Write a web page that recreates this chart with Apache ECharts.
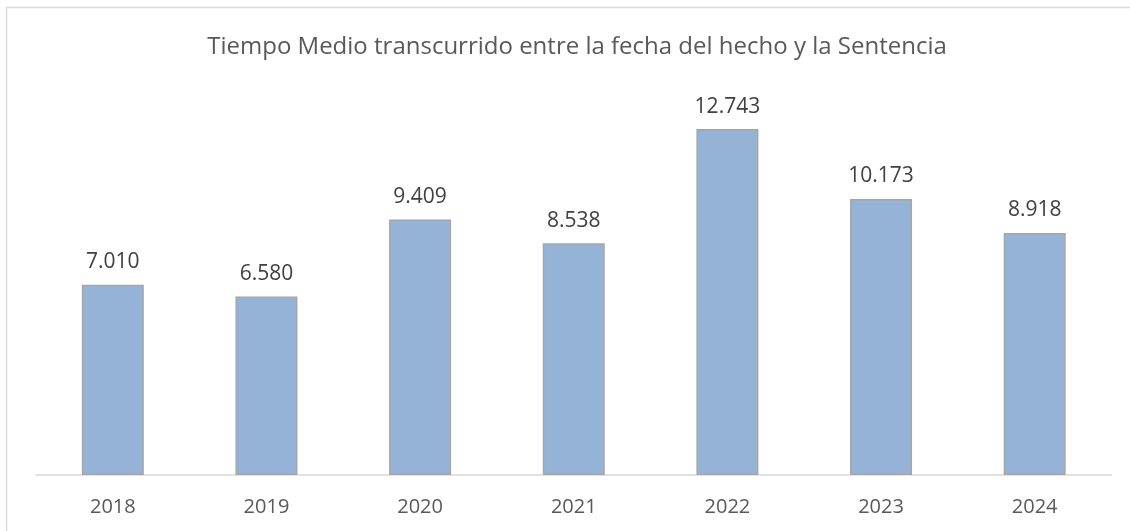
<!DOCTYPE html>
<html>
<head>
<meta charset="utf-8">
<script src="https://cdn.jsdelivr.net/npm/echarts@6/dist/echarts.min.js"></script>
<style>
  html, body { margin: 0; padding: 0; background: #fff; }
  #container { width: 1130px; height: 531px; }
</style>
</head>
<body>
<div id="container"></div>
<script>
  var titulo = 'Tiempo Medio transcurrido entre la fecha del hecho y la Sentencia';
  var anios = ['2018', '2019', '2020', '2021', '2022', '2023', '2024'];
  var valores = [7010, 6580, 9409, 8538, 12743, 10173, 8918];

  // 7010 -> "7.010"
  function formatoMiles(v) {
    return String(v).replace(/\B(?=(\d{3})+(?!\d))/g, '.');
  }

  var myChart = echarts.init(document.getElementById('container'));
  var option = {
    backgroundColor: '#fff',
    textStyle: { fontFamily: 'Open Sans' },
    title: {
      text: titulo,
      left: 572,
      textAlign: 'center',
      top: 30,
      textStyle: { color: '#595959', fontSize: 24, fontWeight: 'normal', fontFamily: 'Open Sans' }
    },
    graphic: [{
      type: 'rect',
      shape: { x: 6.5, y: 7.5, width: 1140, height: 540 },
      style: { fill: 'none', stroke: '#D9D9D9', lineWidth: 1.5 },
      silent: true
    }],
    grid: { left: 36, right: 18.5, top: 95, bottom: 56 },
    xAxis: {
      type: 'category',
      data: anios,
      axisLine: { lineStyle: { color: '#D9D9D9', width: 1.5 } },
      axisTick: { show: false },
      axisLabel: { color: '#595959', fontSize: 20, margin: 22 }
    },
    yAxis: {
      type: 'value',
      min: 0,
      max: 14000,
      show: false,
      splitLine: { show: false }
    },
    series: [{
      type: 'bar',
      data: valores,
      barWidth: 62,
      itemStyle: { color: '#95B3D7', borderColor: '#A6A6A6', borderWidth: 1.5 },
      label: {
        show: true,
        position: 'top',
        distance: 12,
        color: '#404040',
        fontSize: 21,
        formatter: function (p) { return formatoMiles(p.value); }
      }
    }]
  };
  myChart.setOption(option);
</script>
</body>
</html>
